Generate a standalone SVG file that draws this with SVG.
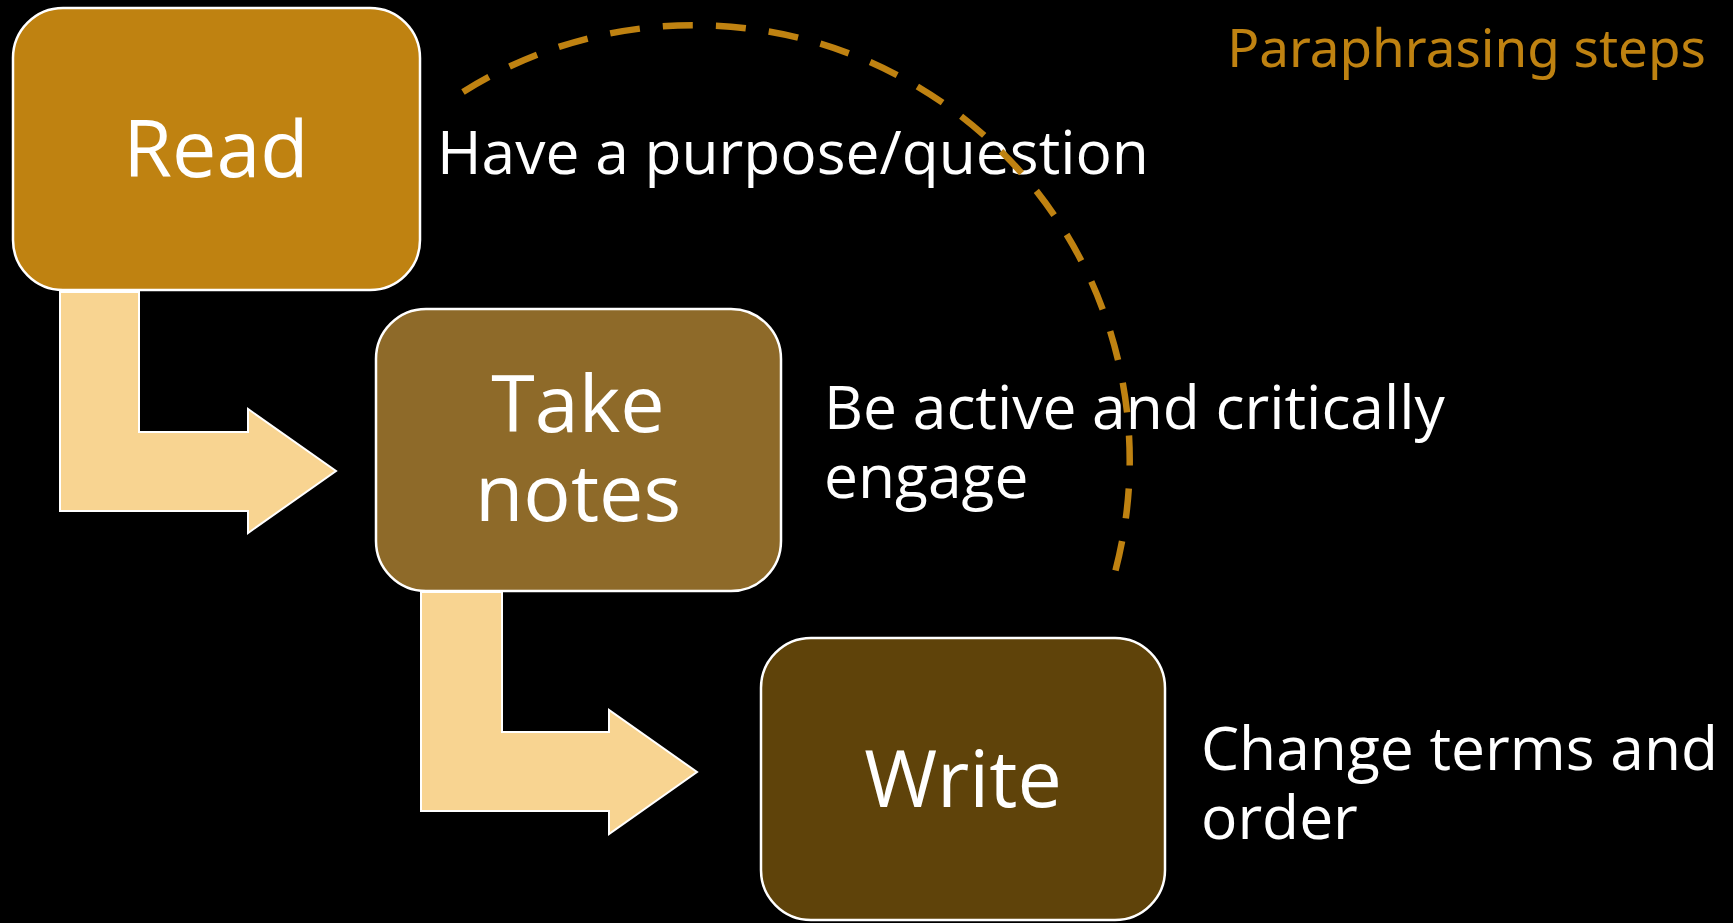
<svg xmlns="http://www.w3.org/2000/svg" width="1733" height="923" viewBox="0 0 1733 923">
<style>
.bg{fill:#000}
.box{stroke:#fff;stroke-width:2.5}
.arrow{fill:#F8D491;stroke:#fff;stroke-width:2}
.lbl{font-family:"Open Sans","Noto Sans","Liberation Sans",sans-serif;fill:#fff}
.big{font-size:79px;text-anchor:middle}
.desc{font-size:60.5px}
.title{font-family:"Noto Sans","Open Sans","Liberation Sans",sans-serif;font-size:53px;fill:#BF8211;text-anchor:end}
.arc{fill:none;stroke:#BF8211;stroke-width:6.5;stroke-dasharray:30 23.1}
</style>
<rect class="bg" x="0" y="0" width="1733" height="923"/>
<g id="connectors">
<path class="arrow" d="M60,292 L139,292 L139,432 L248,432 L248,409 L336,471 L248,533 L248,511 L60,511 Z"/>
<path class="arrow" d="M421,592 L502,592 L502,732 L609,732 L609,710 L697,772 L609,834 L609,811 L421,811 Z"/>
</g>
<g id="node-read">
<rect class="box" x="13" y="8" width="407" height="282" rx="50" fill="#BF8211"/>
<text class="lbl big" x="216" y="177">Read</text>
</g>
<g id="node-take-notes">
<rect class="box" x="376" y="309" width="405" height="282" rx="50" fill="#8E6A29"/>
<text class="lbl big" x="578" y="432">Take</text>
<text class="lbl big" x="578" y="521">notes</text>
</g>
<g id="node-write">
<rect class="box" x="761" y="638" width="404" height="282" rx="50" fill="#5F430A"/>
<text class="lbl big" x="963" y="807">Write</text>
</g>
<g id="labels">
<text class="lbl desc" x="437" y="174">Have a purpose/question</text>
<text class="lbl desc" x="824" y="429">Be active and critically</text>
<text class="lbl desc" x="824" y="498">engage</text>
<text class="lbl desc" x="1201" y="770">Change terms and</text>
<text class="lbl desc" x="1201" y="839">order</text>
</g>
<g id="cycle-arc">
<path class="arc" d="M463,92 A435,435 0 0 1 1114,576"/>
</g>
<text class="title" x="1706" y="67">Paraphrasing steps</text>
</svg>
